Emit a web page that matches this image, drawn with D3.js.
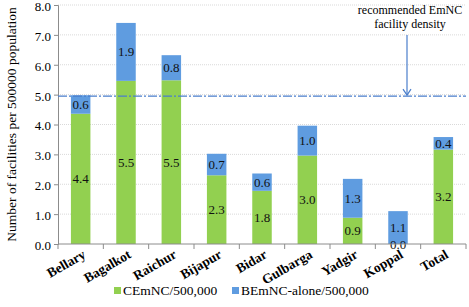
<!DOCTYPE html>
<html>
<head>
<meta charset="utf-8">
<script src="https://cdn.jsdelivr.net/npm/d3@7"></script>
<style>
  body { margin: 0; background: #fff; }
  svg text { font-family: "Liberation Serif", "Times New Roman", "DejaVu Serif", serif !important; }
</style>
</head>
<body>
<div id="chart"></div>
<script>
var districts = ['Bellary', 'Bagalkot', 'Raichur', 'Bijapur', 'Bidar', 'Gulbarga', 'Yadgir', 'Koppal', 'Total'];
var cemnc = [4.36, 5.46, 5.48, 2.30, 1.78, 2.96, 0.88, 0.0, 3.16];
var bemnc = [0.62, 1.94, 0.84, 0.72, 0.58, 1.00, 1.30, 1.10, 0.42];
var yTicks = [0, 1, 2, 3, 4, 5, 6, 7, 8];
var recommended = 4.95;
var seriesNames = ['CEmNC/500,000', 'BEmNC-alone/500,000'];

var serif = '"Liberation Serif", "Times New Roman", serif';

var margin = {top: 5, right: 3, bottom: 63, left: 58},
    width = 469 - margin.left - margin.right,
    height = 307 - margin.top - margin.bottom;

var svg = d3.select('#chart').append('svg')
    .attr('width', 469).attr('height', 307)
    .attr('font-family', serif)
  .append('g')
    .attr('transform', 'translate(' + margin.left + ',' + margin.top + ')');

var x = d3.scaleBand().domain(districts).range([0, width]).paddingInner(0.57).paddingOuter(0.285);
var y = d3.scaleLinear().domain([0, 8]).range([height, 0]);
var color = ['#92d050', '#5f9ce0'];

// grid
svg.selectAll('.grid').data(yTicks.slice(1)).enter().append('line')
    .attr('x1', 0).attr('x2', width)
    .attr('y1', function(d) { return y(d); }).attr('y2', function(d) { return y(d); })
    .attr('stroke', '#d9d9d9').attr('stroke-dasharray', '1,1');

// y axis
var yAxis = svg.append('g')
    .call(d3.axisLeft(y).tickValues(yTicks).tickFormat(d3.format('.1f')).tickSize(4))
    .attr('font-family', serif);
yAxis.select('.domain').attr('stroke', '#8c8c8c');
yAxis.selectAll('.tick line').attr('stroke', '#8c8c8c');
yAxis.selectAll('text').attr('font-size', 13).attr('fill', '#000').attr('x', -7).attr('dy', '0.42em');

// bars
var stacked = districts.map(function(d, i) {
  return {name: d, parts: [[0, cemnc[i]], [cemnc[i], cemnc[i] + bemnc[i]]], vals: [cemnc[i], bemnc[i]]};
});

var groups = svg.selectAll('.bar').data(stacked).enter().append('g');
[0, 1].forEach(function(k) {
  groups.append('rect')
      .attr('x', function(d) { return x(d.name); })
      .attr('width', x.bandwidth())
      .attr('y', function(d) { return y(d.parts[k][1]); })
      .attr('height', function(d) { return y(d.parts[k][0]) - y(d.parts[k][1]); })
      .attr('fill', color[k]);
});
[0, 1].forEach(function(k) {
  groups.append('text')
      .attr('x', function(d) { return x(d.name) + x.bandwidth() / 2; })
      .attr('y', function(d) { return (y(d.parts[k][0]) + y(d.parts[k][1])) / 2 + 4.5; })
      .attr('text-anchor', 'middle')
      .attr('font-size', 13)
      .attr('fill', '#111')
      .text(function(d) { return d.vals[k].toFixed(1); });
});

// x axis
var xAxis = svg.append('g').attr('transform', 'translate(0,' + height + ')');
xAxis.append('line').attr('x1', 0).attr('x2', width).attr('stroke', '#8c8c8c');
var edges = d3.range(districts.length + 1).map(function(i) { return i * x.step(); });
xAxis.selectAll('.tk').data(edges).enter().append('line')
    .attr('x1', function(d) { return d; }).attr('x2', function(d) { return d; })
    .attr('y1', 0).attr('y2', 5).attr('stroke', '#8c8c8c');
xAxis.selectAll('.lbl').data(districts).enter().append('text')
    .attr('transform', function(d) {
      return 'translate(' + (x(d) + x.bandwidth() / 2 + 6) + ',13) rotate(-30)';
    })
    .attr('text-anchor', 'end')
    .attr('font-size', 13.5)
    .attr('font-weight', 'bold')
    .text(function(d) { return d; });

// recommended line
svg.append('line')
    .attr('x1', 0).attr('x2', width)
    .attr('y1', y(recommended)).attr('y2', y(recommended))
    .attr('stroke', '#4a7ecb').attr('stroke-width', 1.2)
    .attr('stroke-dasharray', '9,2,2,2');

// annotation
var ax = 349;
svg.append('text').attr('x', ax + 3).attr('y', 9).attr('text-anchor', 'middle')
    .attr('font-size', 12).text('recommended EmNC');
svg.append('text').attr('x', ax + 3).attr('y', 23).attr('text-anchor', 'middle')
    .attr('font-size', 12).text('facility density');
svg.append('line').attr('x1', ax).attr('x2', ax).attr('y1', 30).attr('y2', y(recommended) - 1)
    .attr('stroke', '#4a7ecb').attr('stroke-width', 1.2);
svg.append('path')
    .attr('d', 'M' + (ax - 4) + ',' + (y(recommended) - 7) + 'L' + ax + ',' + (y(recommended) - 1) + 'L' + (ax + 4) + ',' + (y(recommended) - 7))
    .attr('fill', 'none').attr('stroke', '#4a7ecb').attr('stroke-width', 1.2);

// y label
svg.append('text')
    .attr('transform', 'translate(' + (-42) + ',' + (height / 2) + ') rotate(-90)')
    .attr('text-anchor', 'middle')
    .attr('font-size', 13.5)
    .text('Number of facilities per 500000 population');

// legend
var legX = [56, 174];
var leg = svg.selectAll('.leg').data(seriesNames).enter().append('g')
    .attr('transform', function(d, i) { return 'translate(' + legX[i] + ',' + (height + 46) + ')'; });
leg.append('rect').attr('width', 7).attr('height', 7).attr('y', -3)
    .attr('fill', function(d, i) { return color[i]; });
leg.append('text').attr('x', 9).attr('y', 4.5).attr('font-size', 13.5)
    .text(function(d) { return d; });
</script>
</body>
</html>
